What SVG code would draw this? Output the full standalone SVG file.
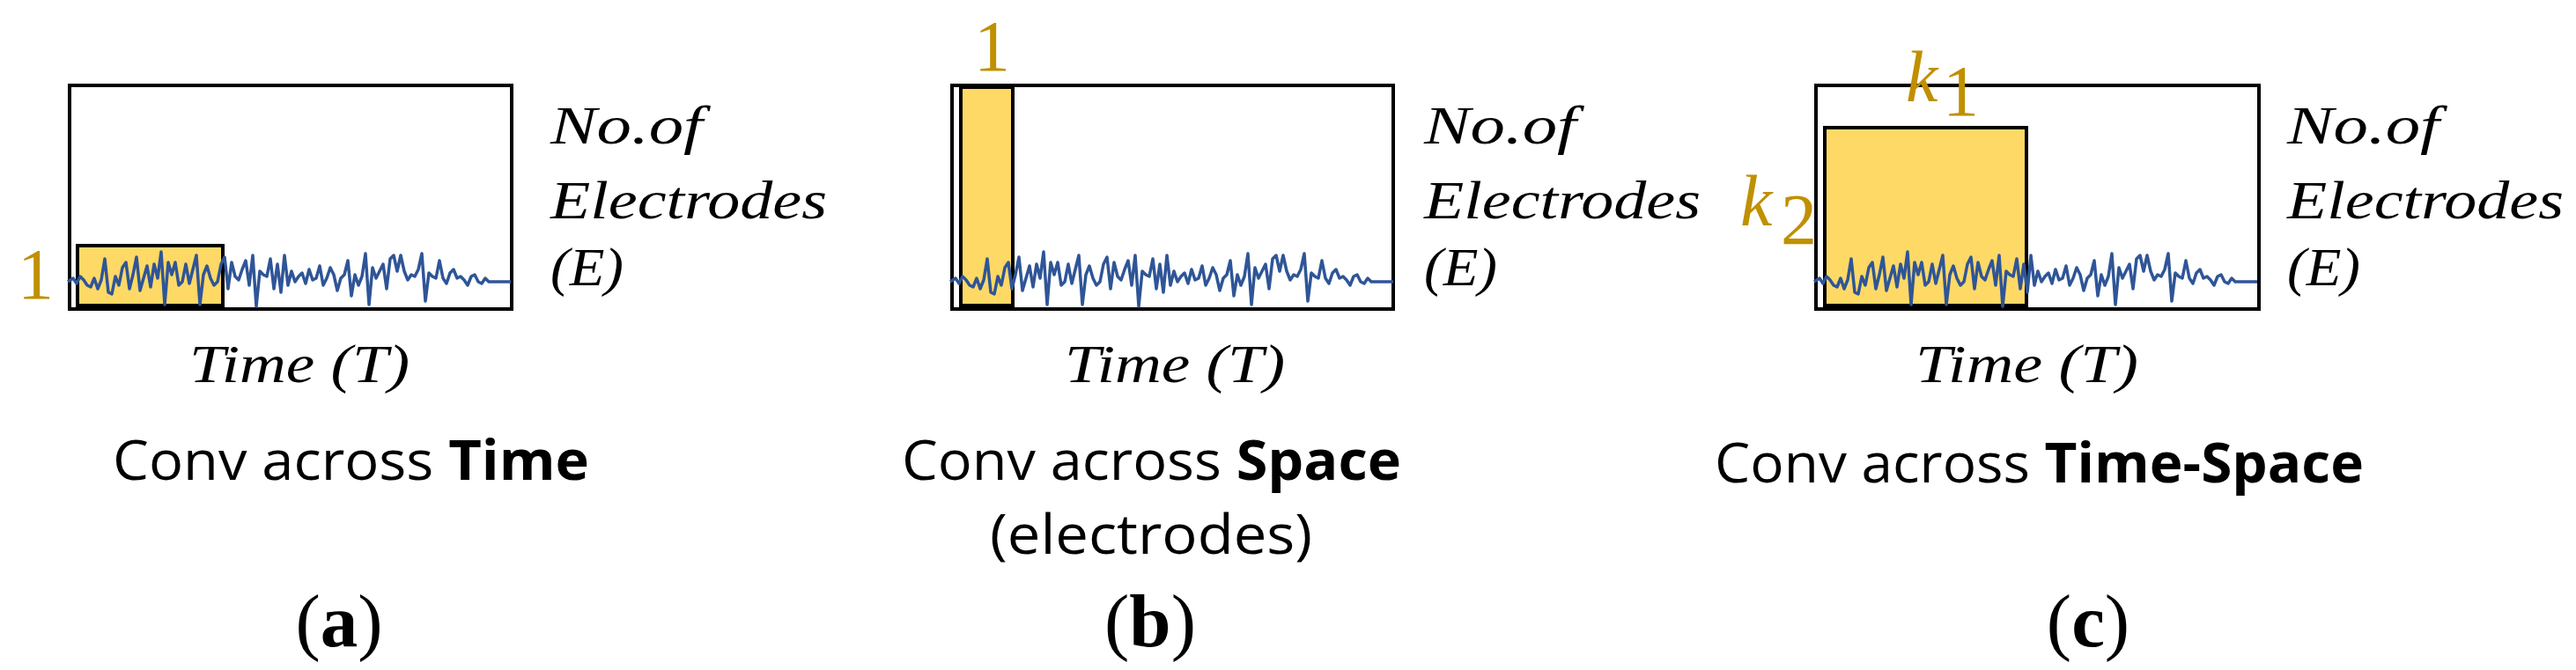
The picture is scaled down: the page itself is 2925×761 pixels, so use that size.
<svg xmlns="http://www.w3.org/2000/svg" xmlns:xlink="http://www.w3.org/1999/xlink" width="2925" height="761" viewBox="0 0 2925 761">
<style>
.box{fill:#fff;stroke:#000;stroke-width:4}
.ker{fill:#ffd966;stroke:#000;stroke-width:4}
.sig{fill:none;stroke:#2f5597;stroke-width:3.5;stroke-linejoin:round}
.math{font-family:"Liberation Serif",serif;font-style:italic;font-size:62px;fill:#000}
.gold{font-family:"Liberation Serif",serif;font-size:82px;fill:#bf9000}
.goldi{font-family:"Liberation Serif",serif;font-style:italic;font-size:82px;fill:#bf9000}
.lab{font-family:"Open Sans",sans-serif;font-size:62px;fill:#000}
.cap{font-family:"Liberation Serif",serif;font-size:85px;fill:#000;text-anchor:middle}
</style>
<defs>
<path id="wave" d="M0,0 L6,-4 10,2 14,-6 18,-2 22,4 26,6 30,-4 34,8 38,-2 42,-26 46,12 50,14 54,-6 58,4 62,-16 66,-22 70,8 74,-8 78,-28 82,10 86,-4 90,-18 94,6 98,-20 102,-4 106,-34 110,26 114,-22 118,-8 122,-22 126,4 130,0 134,-20 138,2 142,-14 146,-30 150,26 154,-8 158,-18 162,-4 166,4 170,0 174,-20 178,-28 182,8 186,-22 190,-6 194,-2 198,-14 202,-24 206,4 210,-30 214,28 218,-12 222,-8 226,-6 230,-26 234,8 238,-20 242,12 246,-30 250,4 254,-12 258,0 262,-6 266,-10 270,2 274,-14 278,-2 282,-4 286,-18 290,4 294,-4 298,-16 302,-8 306,10 310,-4 314,-8 318,-24 322,16 326,-8 330,4 334,-6 338,-32 342,26 346,-16 350,-4 354,-12 358,-20 362,8 366,-26 370,-30 374,-12 378,-30 382,-12 386,-2 390,-8 394,-6 398,-14 402,-32 406,22 410,-10 414,-6 418,-4 422,-24 426,-4 430,2 434,-10 438,-14 442,-4 446,-6 450,-2 454,4 458,-6 462,-8 466,0 470,2 474,-4 478,0 503,0"/>
</defs>
<g id="panel-a">
<rect class="box" x="79" y="97" width="502" height="254"/>
<rect class="ker" x="88" y="279" width="165" height="68"/>
<use xlink:href="#wave" href="#wave" class="sig" transform="translate(77,320)"/>
<text class="gold" x="20" y="339">1</text>
<text class="math" x="625" y="163" textLength="173" lengthAdjust="spacingAndGlyphs">No.of</text>
<text class="math" x="625" y="248" textLength="314" lengthAdjust="spacingAndGlyphs">Electrodes</text>
<text class="math" x="625" y="324" textLength="83" lengthAdjust="spacingAndGlyphs">(E)</text>
<text class="math" x="215" y="434" textLength="250" lengthAdjust="spacingAndGlyphs">Time (T)</text>
<text class="lab" x="128" y="545" textLength="541" lengthAdjust="spacingAndGlyphs">Conv across <tspan font-weight="bold">Time</tspan></text>
<text class="cap" x="385" y="734">(<tspan font-weight="bold">a</tspan>)</text>
</g>
<g id="panel-b">
<rect class="box" x="1081" y="97" width="501" height="254"/>
<rect class="ker" x="1091" y="99" width="59" height="248"/>
<use xlink:href="#wave" href="#wave" class="sig" transform="translate(1079,320)"/>
<text class="gold" x="1106" y="80">1</text>
<text class="math" x="1617" y="163" textLength="173" lengthAdjust="spacingAndGlyphs">No.of</text>
<text class="math" x="1617" y="248" textLength="314" lengthAdjust="spacingAndGlyphs">Electrodes</text>
<text class="math" x="1617" y="324" textLength="83" lengthAdjust="spacingAndGlyphs">(E)</text>
<text class="math" x="1209" y="434" textLength="250" lengthAdjust="spacingAndGlyphs">Time (T)</text>
<text class="lab" x="1024" y="545" textLength="567" lengthAdjust="spacingAndGlyphs">Conv across <tspan font-weight="bold">Space</tspan></text>
<text class="lab" x="1124" y="629" textLength="366" lengthAdjust="spacingAndGlyphs">(electrodes)</text>
<text class="cap" x="1306" y="734">(<tspan font-weight="bold">b</tspan>)</text>
</g>
<g id="panel-c">
<rect class="box" x="2062" y="97" width="503" height="254"/>
<rect class="ker" x="2072" y="145" width="229" height="202"/>
<use xlink:href="#wave" href="#wave" class="sig" transform="translate(2060,320)"/>
<text class="goldi" x="2164" y="115">k</text>
<text class="gold" x="2206" y="131" font-size="62">1</text>
<text class="goldi" x="1976" y="256">k</text>
<text class="gold" x="2022" y="277" font-size="62">2</text>
<text class="math" x="2597" y="163" textLength="173" lengthAdjust="spacingAndGlyphs">No.of</text>
<text class="math" x="2597" y="248" textLength="314" lengthAdjust="spacingAndGlyphs">Electrodes</text>
<text class="math" x="2597" y="324" textLength="83" lengthAdjust="spacingAndGlyphs">(E)</text>
<text class="math" x="2175" y="434" textLength="253" lengthAdjust="spacingAndGlyphs">Time (T)</text>
<text class="lab" x="1947" y="548" textLength="737" lengthAdjust="spacingAndGlyphs">Conv across <tspan font-weight="bold">Time-Space</tspan></text>
<text class="cap" x="2371" y="734">(<tspan font-weight="bold">c</tspan>)</text>
</g>
<g id="connectors"/>
</svg>
